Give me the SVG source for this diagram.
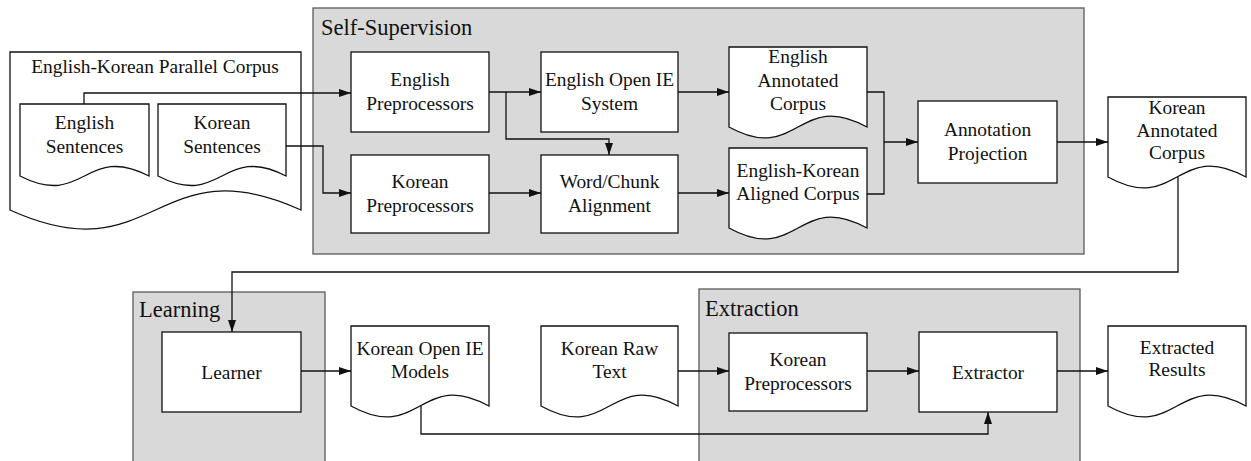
<svg xmlns="http://www.w3.org/2000/svg" width="1251" height="461" viewBox="0 0 1251 461" font-family="'Liberation Serif', serif">
<defs>
<style>
.grp{fill:#d9d9d9;stroke:#5a5a5a;stroke-width:1.3}
.box{fill:#fff;stroke:#111;stroke-width:1.3}
.doc{fill:#fff;stroke:#111;stroke-width:1.3}
.t{font-family:'Liberation Serif',serif;font-size:19.4px;fill:#111;text-anchor:middle}
.g{font-family:'Liberation Serif',serif;font-size:22.5px;fill:#111}
.c{fill:none;stroke:#111;stroke-width:1.3}
</style>
<marker id="ah" markerUnits="userSpaceOnUse" markerWidth="13" markerHeight="9" refX="12" refY="4" orient="auto">
<path d="M0,0 L12,4 L0,8 Z" fill="#111"/>
</marker>
</defs>
<rect width="1251" height="461" fill="#fff"/>

<g id="grp-selfsup">
<rect class="grp" x="313" y="8" width="771" height="246"/>
<text class="g" x="321" y="35">Self-Supervision</text>
</g>
<g id="grp-learning">
<rect class="grp" x="133" y="292" width="192" height="180"/>
<text class="g" x="139" y="317">Learning</text>
</g>
<g id="grp-extraction">
<rect class="grp" x="699" y="289" width="381" height="183"/>
<text class="g" x="705" y="316">Extraction</text>
</g>

<g id="parallel-corpus">
<path class="doc" d="M10,52 H301 V210 C155.5,144 155.5,276 10,210 Z"/>
<text class="t" x="155" y="73">English-Korean Parallel Corpus</text>
</g>
<g id="english-sentences">
<path class="doc" d="M20,104 H149 V176 C84.5,143 84.5,209 20,176 Z"/>
<text class="t" x="84.5" y="129">English</text>
<text class="t" x="84.5" y="153">Sentences</text>
</g>
<g id="korean-sentences">
<path class="doc" d="M158,104 H286 V176 C222,143 222,209 158,176 Z"/>
<text class="t" x="222" y="129">Korean</text>
<text class="t" x="222" y="153">Sentences</text>
</g>

<g id="english-preprocessors">
<rect class="box" x="351" y="52" width="138" height="80"/>
<text class="t" x="420" y="86">English</text>
<text class="t" x="420" y="110">Preprocessors</text>
</g>
<g id="korean-preprocessors">
<rect class="box" x="351" y="155" width="138" height="78"/>
<text class="t" x="420" y="188">Korean</text>
<text class="t" x="420" y="212">Preprocessors</text>
</g>
<g id="english-openie">
<rect class="box" x="541" y="52" width="137" height="80"/>
<text class="t" x="609.5" y="86">English Open IE</text>
<text class="t" x="609.5" y="110">System</text>
</g>
<g id="word-chunk">
<rect class="box" x="541" y="155" width="137" height="78"/>
<text class="t" x="609.5" y="188">Word/Chunk</text>
<text class="t" x="609.5" y="212">Alignment</text>
</g>
<g id="english-annotated">
<path class="doc" d="M729,47 H867 V127 C798,89 798,165 729,127 Z"/>
<text class="t" x="798" y="63">English</text>
<text class="t" x="798" y="87">Annotated</text>
<text class="t" x="798" y="110">Corpus</text>
</g>
<g id="aligned-corpus">
<path class="doc" d="M729,148 H867 V228 C798,190 798,266 729,228 Z"/>
<text class="t" x="798" y="177">English-Korean</text>
<text class="t" x="798" y="200">Aligned Corpus</text>
</g>
<g id="annotation-projection">
<rect class="box" x="918" y="101" width="139" height="82"/>
<text class="t" x="987.5" y="136">Annotation</text>
<text class="t" x="987.5" y="160">Projection</text>
</g>
<g id="korean-annotated">
<path class="doc" d="M1108,97 H1246 V177 C1177,139 1177,215 1108,177 Z"/>
<text class="t" x="1177" y="114">Korean</text>
<text class="t" x="1177" y="137">Annotated</text>
<text class="t" x="1177" y="159">Corpus</text>
</g>

<g id="learner">
<rect class="box" x="162" y="332" width="139" height="80"/>
<text class="t" x="231.5" y="379">Learner</text>
</g>
<g id="korean-openie-models">
<path class="doc" d="M351,326 H489 V406 C420,368 420,444 351,406 Z"/>
<text class="t" x="420" y="355">Korean Open IE</text>
<text class="t" x="420" y="378">Models</text>
</g>
<g id="korean-raw-text">
<path class="doc" d="M541,326 H678 V406 C609.5,368 609.5,444 541,406 Z"/>
<text class="t" x="609.5" y="355">Korean Raw</text>
<text class="t" x="609.5" y="378">Text</text>
</g>
<g id="korean-preprocessors-ext">
<rect class="box" x="729" y="333" width="138" height="78"/>
<text class="t" x="798" y="366">Korean</text>
<text class="t" x="798" y="390">Preprocessors</text>
</g>
<g id="extractor">
<rect class="box" x="919" y="332" width="138" height="80"/>
<text class="t" x="988" y="379">Extractor</text>
</g>
<g id="extracted-results">
<path class="doc" d="M1108,326 H1246 V406 C1177,368 1177,444 1108,406 Z"/>
<text class="t" x="1177" y="354">Extracted</text>
<text class="t" x="1177" y="376">Results</text>
</g>

<g id="connectors">
<path class="c" marker-end="url(#ah)" d="M84,104 V93 H351"/>
<path class="c" marker-end="url(#ah)" d="M286,146 H323 V193 H351"/>
<path class="c" marker-end="url(#ah)" d="M489,92 H541"/>
<path class="c" marker-end="url(#ah)" d="M506,92 V139 H609 V155"/>
<path class="c" marker-end="url(#ah)" d="M489,193 H541"/>
<path class="c" marker-end="url(#ah)" d="M678,92 H729"/>
<path class="c" marker-end="url(#ah)" d="M678,193 H729"/>
<path class="c" d="M867,92 H884 V194 H867"/>
<path class="c" marker-end="url(#ah)" d="M884,142 H918"/>
<path class="c" marker-end="url(#ah)" d="M1057,142 H1108"/>
<path class="c" marker-end="url(#ah)" d="M1178,177 V272 H232 V332"/>
<path class="c" marker-end="url(#ah)" d="M301,371 H351"/>
<path class="c" marker-end="url(#ah)" d="M678,371 H729"/>
<path class="c" marker-end="url(#ah)" d="M867,371 H919"/>
<path class="c" marker-end="url(#ah)" d="M1057,371 H1108"/>
<path class="c" marker-end="url(#ah)" d="M421,406 V434 H988 V412"/>
</g>
</svg>
